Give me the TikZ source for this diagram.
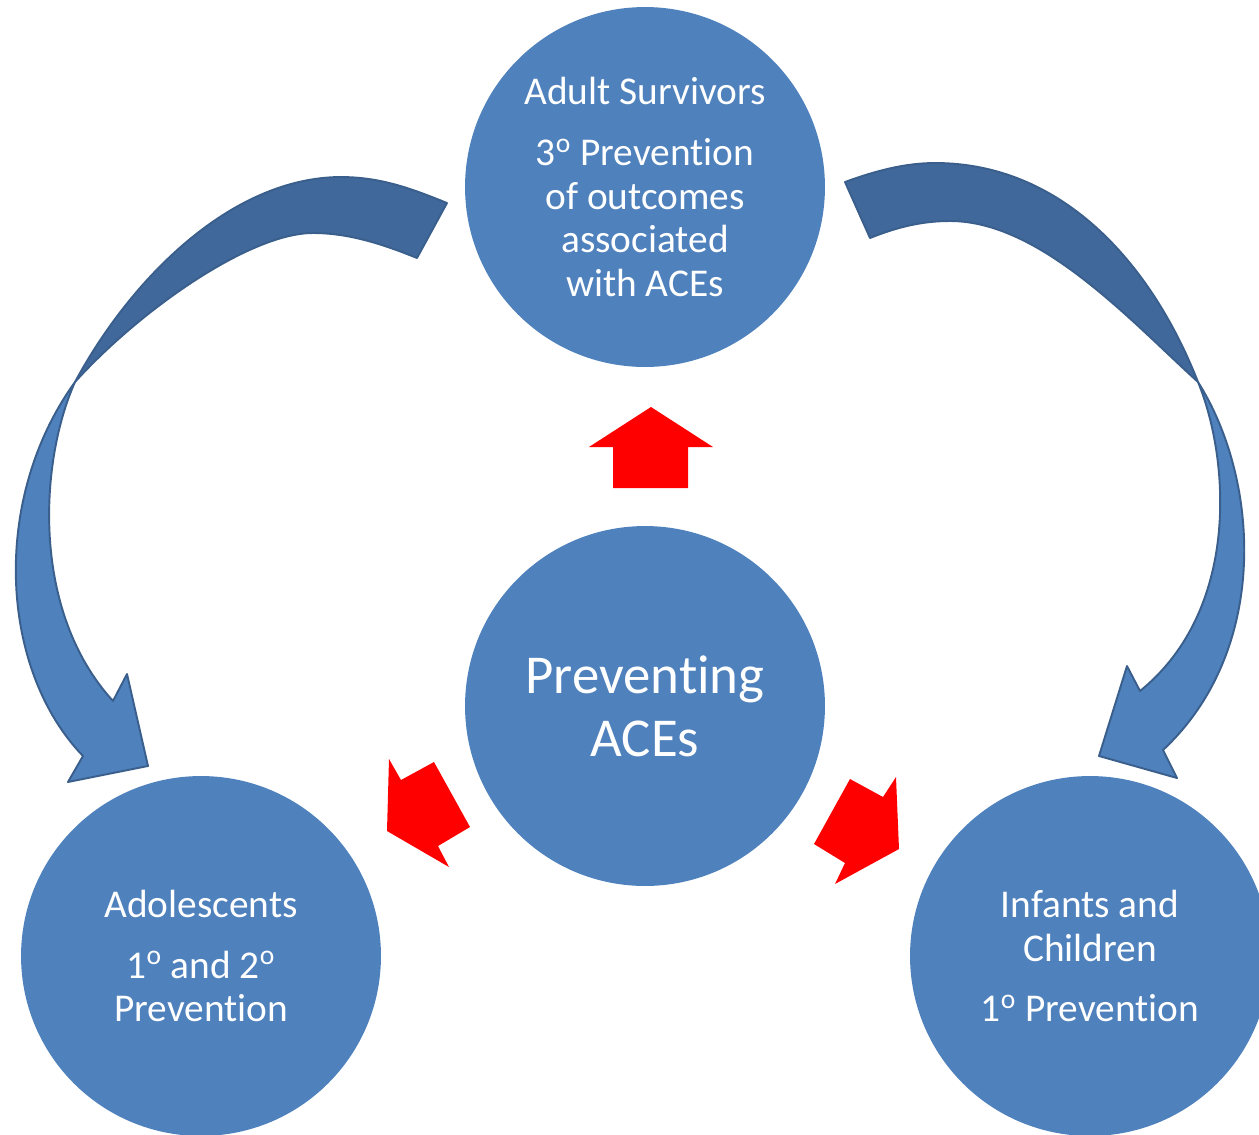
\documentclass[tikz,border=0pt]{standalone}
\usepackage{fontspec}
\setmainfont{Carlito}[Ligatures=NoCommon]
\usepackage{tikz}
\definecolor{Azul}{HTML}{4F81BD}
\definecolor{AzulOscuro}{HTML}{41689A}
\definecolor{Borde}{HTML}{3A5F8C}
\definecolor{Rojo}{HTML}{FF0000}

\begin{document}
\begin{tikzpicture}[
  x=0.02cm, y=-0.02cm,
  stage/.style={circle,fill=Azul,text=white,minimum size=7.2cm,inner sep=0pt,
    align=center,font=\fontsize{22.4}{24.9}\selectfont},
  band/.style={line width=1.1pt,draw=Borde,line join=round},
  back/.style={band,fill=AzulOscuro},
  front/.style={band,fill=Azul},
  push/.style={fill=Rojo}
]
  \useasboundingbox (0,0) rectangle (1259,1134);

  % curved arrow, adults -> adolescents
  \filldraw[back] (447,203) .. controls (410,188) and (380,177) .. (340,177)
    .. controls (230,178) and (130,280) .. (75,382)
    .. controls (140,310) and (250,233) .. (313,233)
    .. controls (350,233) and (385,245) .. (417,258) -- cycle;
  \filldraw[front] (75,382) .. controls (-10,500) and (0,670) .. (83,756)
    -- (68,782) -- (148,766) -- (127,674) -- (113,701)
    .. controls (30,610) and (40,460) .. (75,382) -- cycle;

  % curved arrow, adults -> infants
  \filldraw[back] (845,182) .. controls (875,171) and (905,163) .. (935,163)
    .. controls (1060,163) and (1150,260) .. (1198,382)
    .. controls (1130,320) and (1040,221) .. (950,221)
    .. controls (920,221) and (895,228) .. (870,238) -- cycle;
  \filldraw[front] (1198,382) .. controls (1260,480) and (1270,650) .. (1163,750)
    -- (1177,778) -- (1099,756) -- (1127,666) -- (1140,691)
    .. controls (1240,610) and (1230,460) .. (1198,382) -- cycle;

  \node[stage] (adult) at (645,187)
    {Adult Survivors\\[0.34cm]3\textsuperscript{o} Prevention\\of outcomes\\associated\\with ACEs};
  \node[stage,font=\fontsize{31.2}{35.7}\selectfont] (aces) at (645,706)
    {Preventing\\ACEs};
  \node[stage] (adol) at (201,956)
    {Adolescents\\[0.34cm]1\textsuperscript{o} and 2\textsuperscript{o}\\Prevention};
  \node[stage] (infant) at (1090,956)
    {Infants and\\Children\\[0.34cm]1\textsuperscript{o} Prevention};

  % red block arrows out of the centre
  \fill[push] (651,407) -- (713,447) -- (688,447) -- (688,488)
    -- (613,488) -- (613,447) -- (589,447) -- cycle;
  \fill[push] (387,831) -- (389,759) -- (401,780) -- (434,762)
    -- (470,827) -- (438,846) -- (449,867) -- cycle;
  \fill[push] (899,849) -- (835,884) -- (845,863) -- (814,844)
    -- (850,779) -- (883,797) -- (896,777) -- cycle;
\end{tikzpicture}
\end{document}
